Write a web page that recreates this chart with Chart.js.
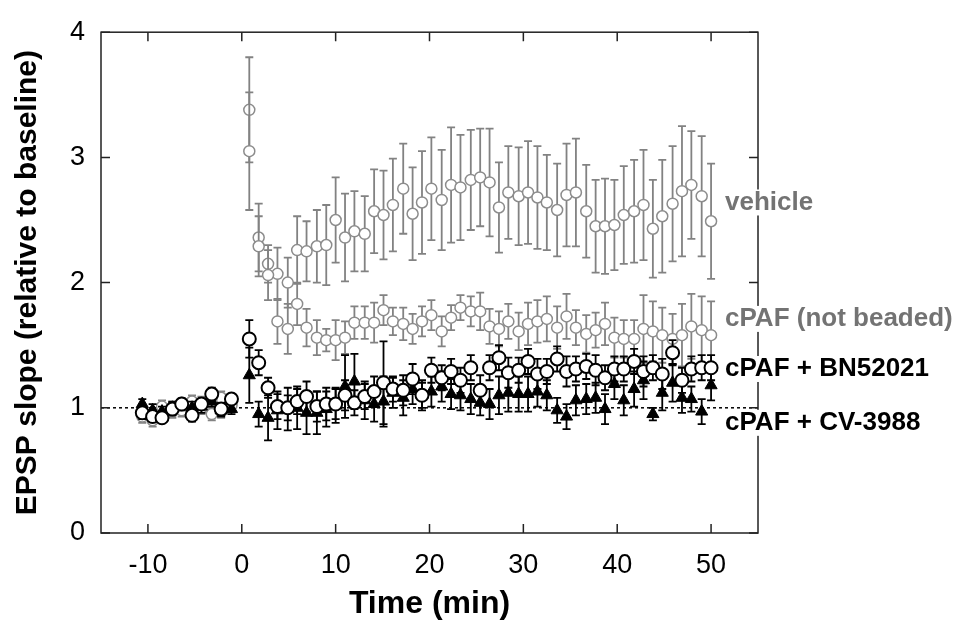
<!DOCTYPE html>
<html>
<head>
<meta charset="utf-8">
<script src="https://cdn.jsdelivr.net/npm/chart.js@4.4.0/dist/chart.umd.min.js"></script>
<style>
  html, body { margin: 0; padding: 0; background: #fff; }
</style>
</head>
<body>
<canvas id="epspChart" width="961" height="629"></canvas>
<script>
// Time points (min): 10 baseline sweeps, 49 after application
const baseTimes = [-10.6, -9.5, -8.5, -7.4, -6.4, -5.3, -4.3, -3.2, -2.2, -1.1];
const postTimes = [0.8, 1.8, 2.8, 3.8, 4.9, 5.9, 6.9, 8.0, 9.0, 10.0, 11.0, 12.0, 13.1, 14.1, 15.1, 16.1,
  17.2, 18.2, 19.2, 20.2, 21.3, 22.3, 23.3, 24.4, 25.4, 26.4, 27.4, 28.4, 29.5, 30.5, 31.5, 32.5,
  33.6, 34.6, 35.6, 36.7, 37.7, 38.7, 39.7, 40.7, 41.8, 42.8, 43.8, 44.8, 45.9, 46.9, 47.9, 49.0, 50.0];
const times = baseTimes.concat(postTimes);

// Axis ticks
const xTicks = [-10, 0, 10, 20, 30, 40, 50];
const yTicks = [0, 1, 2, 3, 4];

// vehicle
const vehicle = [0.93, 0.90, 1.00, 1.00, 0.98, 1.02, 1.00, 0.95, 1.08, 1.03,
  3.38, 2.36, 2.15, 2.07, 2.00, 2.26, 2.25, 2.29, 2.30, 2.50, 2.36, 2.41, 2.39, 2.57, 2.54, 2.62,
  2.75, 2.55, 2.64, 2.75, 2.66, 2.78, 2.76, 2.82, 2.84, 2.80, 2.60, 2.72, 2.69, 2.72, 2.68, 2.64,
  2.58, 2.70, 2.72, 2.57, 2.45, 2.45, 2.46, 2.54, 2.57, 2.62, 2.43, 2.53, 2.63, 2.73, 2.78, 2.69, 2.49];
const vehicleErr = [0.05, 0.05, 0.04, 0.05, 0.05, 0.04, 0.05, 0.05, 0.05, 0.04,
  0.42, 0.27, 0.15, 0.21, 0.20, 0.27, 0.24, 0.29, 0.32, 0.34, 0.35, 0.32, 0.30, 0.335, 0.355, 0.37,
  0.36, 0.37, 0.41, 0.41, 0.40, 0.46, 0.42, 0.40, 0.39, 0.43, 0.36, 0.37, 0.39, 0.41, 0.41, 0.38,
  0.37, 0.41, 0.43, 0.37, 0.37, 0.38, 0.36, 0.39, 0.41, 0.44, 0.39, 0.45, 0.46, 0.52, 0.43, 0.48, 0.46];

// cPAF (not beaded)
const notBeaded = [0.98, 0.95, 1.01, 0.97, 1.04, 1.05, 1.04, 1.08, 0.97, 1.02,
  3.05, 2.29, 2.06, 1.69, 1.63, 1.83, 1.64, 1.56, 1.54, 1.54, 1.56, 1.68, 1.68, 1.68, 1.78, 1.69,
  1.67, 1.63, 1.69, 1.74, 1.61, 1.72, 1.80, 1.77, 1.77, 1.65, 1.63, 1.69, 1.61, 1.67, 1.69, 1.71,
  1.64, 1.73, 1.64, 1.59, 1.62, 1.67, 1.56, 1.55, 1.55, 1.63, 1.61, 1.58, 1.55, 1.58, 1.65, 1.62, 1.58];
const notBeadedErr = [0.05, 0.04, 0.05, 0.05, 0.04, 0.05, 0.05, 0.04, 0.05, 0.05,
  0.47, 0.24, 0.20, 0.18, 0.20, 0.17, 0.15, 0.14, 0.09, 0.16, 0.13, 0.13, 0.13, 0.16, 0.12, 0.11,
  0.13, 0.12, 0.12, 0.12, 0.12, 0.10, 0.10, 0.12, 0.15, 0.14, 0.14, 0.14, 0.15, 0.17, 0.17, 0.18,
  0.17, 0.18, 0.14, 0.15, 0.14, 0.17, 0.16, 0.15, 0.15, 0.27, 0.24, 0.22, 0.20, 0.25, 0.26, 0.27, 0.27];

// cPAF + BN52021
const bn52021 = [0.96, 0.93, 0.92, 0.99, 1.03, 0.94, 1.03, 1.11, 0.99, 1.07,
  1.55, 1.36, 1.16, 1.01, 1.00, 1.05, 1.09, 1.01, 1.03, 1.03, 1.10, 1.04, 1.09, 1.13, 1.20, 1.15,
  1.14, 1.23, 1.10, 1.30, 1.24, 1.29, 1.22, 1.32, 1.14, 1.32, 1.40, 1.28, 1.30, 1.37, 1.27, 1.29,
  1.39, 1.29, 1.31, 1.33, 1.30, 1.24, 1.31, 1.31, 1.37, 1.29, 1.32, 1.27, 1.44, 1.22, 1.31, 1.32, 1.32];
const bn52021Err = [0.05, 0.04, 0.04, 0.05, 0.04, 0.05, 0.04, 0.05, 0.05, 0.04,
  0.15, 0.10, 0.08, 0.10, 0.10, 0.10, 0.12, 0.12, 0.13, 0.12, 0.12, 0.10, 0.10, 0.12, 0.33, 0.10,
  0.12, 0.12, 0.10, 0.10, 0.10, 0.10, 0.10, 0.10, 0.12, 0.10, 0.10, 0.12, 0.10, 0.10, 0.12, 0.10,
  0.10, 0.12, 0.10, 0.10, 0.12, 0.10, 0.10, 0.10, 0.10, 0.12, 0.10, 0.12, 0.10, 0.10, 0.10, 0.10, 0.10];

// cPAF + CV-3988
const cv3988 = [1.03, 0.98, 0.97, 1.00, 1.02, 1.00, 1.01, 1.05, 0.98, 0.99,
  1.26, 0.95, 0.92, 0.98, 0.99, 1.00, 0.96, 0.96, 0.99, 1.02, 1.17, 1.21, 1.06, 1.03, 1.05, 1.12,
  1.08, 1.15, 1.10, 1.13, 1.17, 1.11, 1.10, 1.07, 1.04, 1.03, 1.10, 1.12, 1.11, 1.11, 1.13, 1.10,
  0.98, 0.93, 1.06, 1.07, 1.08, 0.99, 1.19, 1.06, 1.15, 1.22, 0.95, 1.12, 1.20, 1.08, 1.07, 0.97, 1.18];
const cv3988Err = [0.04, 0.05, 0.04, 0.05, 0.04, 0.05, 0.05, 0.04, 0.05, 0.04,
  0.22, 0.10, 0.18, 0.15, 0.17, 0.17, 0.17, 0.17, 0.14, 0.14, 0.25, 0.22, 0.15, 0.14, 0.20, 0.12,
  0.14, 0.12, 0.12, 0.12, 0.12, 0.12, 0.12, 0.12, 0.10, 0.12, 0.15, 0.15, 0.14, 0.14, 0.12, 0.12,
  0.10, 0.10, 0.12, 0.12, 0.12, 0.12, 0.12, 0.12, 0.14, 0.15, 0.05, 0.14, 0.15, 0.12, 0.10, 0.10, 0.12];

// Series labels, placed next to their traces (y in data units)
const seriesLabels = [
  { text: "vehicle", y: 2.64, color: "#737373" },
  { text: "cPAF (not beaded)", y: 1.71, color: "#737373" },
  { text: "cPAF + BN52021", y: 1.31, color: "#000" },
  { text: "cPAF + CV-3988", y: 0.88, color: "#000" }
];

const GRAY = "#828282";

const toPoints = (vals) => times.map((t, i) => ({ x: t, y: vals[i] }));

// error bars, drawn under each dataset's markers
const errorBars = {
  id: "errorBars",
  beforeDatasetDraw(chart, args) {
    const ds = chart.data.datasets[args.index];
    if (!ds.errors) return;
    const { ctx, scales: { x, y } } = chart;
    ctx.save();
    ctx.strokeStyle = ds.barColor;
    ctx.lineWidth = 1.8;
    ds.data.forEach((p, i) => {
      const e = ds.errors[i];
      const px = x.getPixelForValue(p.x);
      const top = y.getPixelForValue(p.y + e);
      const bot = y.getPixelForValue(p.y - e);
      ctx.beginPath();
      ctx.moveTo(px, top); ctx.lineTo(px, bot);
      ctx.moveTo(px - 4, top); ctx.lineTo(px + 4, top);
      ctx.moveTo(px - 4, bot); ctx.lineTo(px + 4, bot);
      ctx.stroke();
    });
    ctx.restore();
  }
};

// box frame with inward ticks on all sides, then the series labels
const frameAndLabels = {
  id: "frameAndLabels",
  afterDraw(chart) {
    const { ctx, chartArea: a, scales: { x, y } } = chart;
    const tl = 9;
    ctx.save();
    ctx.strokeStyle = "#222";
    ctx.lineWidth = 1.5;
    ctx.strokeRect(a.left, a.top, a.right - a.left, a.bottom - a.top);
    ctx.beginPath();
    x.ticks.forEach(t => {
      const px = x.getPixelForValue(t.value);
      ctx.moveTo(px, a.bottom); ctx.lineTo(px, a.bottom - tl);
      ctx.moveTo(px, a.top); ctx.lineTo(px, a.top + tl);
    });
    y.ticks.forEach(t => {
      const py = y.getPixelForValue(t.value);
      ctx.moveTo(a.left, py); ctx.lineTo(a.left + tl, py);
      ctx.moveTo(a.right, py); ctx.lineTo(a.right - tl, py);
    });
    ctx.stroke();

    // labels sit across the right border, on a white patch
    ctx.font = "bold 26px 'Liberation Sans', Arial, sans-serif";
    ctx.textBaseline = "middle";
    seriesLabels.forEach(l => {
      const lx = a.right - 33;
      const ly = y.getPixelForValue(l.y);
      const w = ctx.measureText(l.text).width;
      ctx.fillStyle = "#fff";
      ctx.fillRect(lx - 2, ly - 13, w + 4, 26);
      ctx.fillStyle = l.color;
      ctx.fillText(l.text, lx, ly);
    });
    ctx.restore();
  }
};

const tickFont = { family: "'Liberation Sans', Arial, sans-serif", size: 27 };

new Chart(document.getElementById("epspChart"), {
  type: "scatter",
  data: {
    datasets: [
      {
        label: "cPAF + BN52021",
        data: toPoints(bn52021),
        errors: bn52021Err,
        barColor: "#000",
        pointStyle: "circle",
        pointRadius: 6.5,
        borderWidth: 2,
        borderColor: "#000",
        backgroundColor: "#fff"
      },
      {
        label: "cPAF + CV-3988",
        data: toPoints(cv3988),
        errors: cv3988Err,
        barColor: "#000",
        pointStyle: "triangle",
        pointRadius: 7,
        borderWidth: 1,
        borderColor: "#000",
        backgroundColor: "#000"
      },
      {
        label: "cPAF (not beaded)",
        data: toPoints(notBeaded),
        errors: notBeadedErr,
        barColor: GRAY,
        pointStyle: "circle",
        pointRadius: 5.5,
        borderWidth: 1.5,
        borderColor: "#8c8c8c",
        backgroundColor: "#fff"
      },
      {
        label: "vehicle",
        data: toPoints(vehicle),
        errors: vehicleErr,
        barColor: GRAY,
        pointStyle: "circle",
        pointRadius: 5.5,
        borderWidth: 1.5,
        borderColor: "#8c8c8c",
        backgroundColor: "#fff"
      },
      {
        label: "baseline",
        data: [{ x: -15, y: 1 }, { x: 55, y: 1 }],
        showLine: true,
        pointRadius: 0,
        borderColor: "#000",
        borderWidth: 1.5,
        borderDash: [3, 3]
      }
    ]
  },
  options: {
    responsive: false,
    animation: false,
    layout: { padding: { top: 28, right: 203, left: 0, bottom: 0 } },
    plugins: { legend: { display: false }, tooltip: { enabled: false } },
    scales: {
      x: {
        type: "linear",
        min: -15,
        max: 55,
        afterBuildTicks: (axis) => { axis.ticks = xTicks.map(v => ({ value: v })); },
        afterFit: (scale) => { scale.height = 96; },
        grid: { display: false, drawTicks: false },
        border: { display: false },
        ticks: { font: tickFont, color: "#000", padding: 16, maxRotation: 0 },
        title: {
          display: true,
          text: "Time (min)",
          color: "#000",
          font: { family: "'Liberation Sans', Arial, sans-serif", size: 32, weight: "bold" },
          padding: { top: 0, bottom: 6 }
        }
      },
      y: {
        min: 0,
        max: 4,
        afterBuildTicks: (axis) => { axis.ticks = yTicks.map(v => ({ value: v })); },
        afterFit: (scale) => { scale.width = 101; },
        grid: { display: false, drawTicks: false },
        border: { display: false },
        ticks: { font: tickFont, color: "#000", padding: 16 },
        title: {
          display: true,
          text: "EPSP slope (relative to baseline)",
          color: "#000",
          font: { family: "'Liberation Sans', Arial, sans-serif", size: 30, weight: "bold" },
          padding: { top: 10, bottom: 0 }
        }
      }
    }
  },
  plugins: [errorBars, frameAndLabels]
});
</script>
</body>
</html>
